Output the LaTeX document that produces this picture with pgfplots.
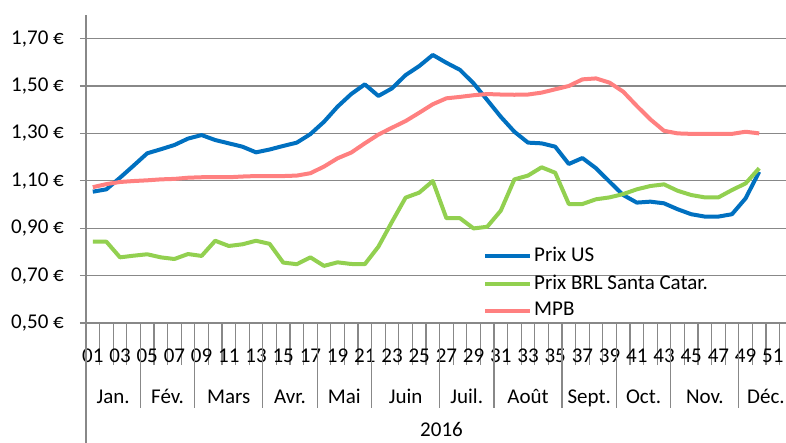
\documentclass[border=0pt]{standalone}
\usepackage{pgfplots}
\usepackage{pgfplotstable}
\pgfplotsset{compat=1.18}
\usetikzlibrary{calc}
\usepackage{fontspec}
\setmainfont{Carlito}
\definecolor{cUS}{HTML}{0070C0}
\definecolor{cBRL}{HTML}{92D050}
\definecolor{cMPB}{HTML}{FF8080}
\definecolor{gridc}{HTML}{888888}
\pgfplotstableread{
week us brl mpb
1 1.054 0.843 1.073
2 1.064 0.843 1.086
3 1.113 0.777 1.095
4 1.164 0.784 1.099
5 1.216 0.790 1.102
6 1.233 0.777 1.106
7 1.251 0.770 1.108
8 1.278 0.791 1.113
9 1.293 0.783 1.115
10 1.272 0.847 1.115
11 1.258 0.825 1.115
12 1.244 0.832 1.118
13 1.220 0.847 1.120
14 1.232 0.834 1.120
15 1.247 0.755 1.120
16 1.261 0.748 1.122
17 1.297 0.777 1.132
18 1.349 0.741 1.160
19 1.413 0.756 1.195
20 1.466 0.749 1.219
21 1.507 0.748 1.258
22 1.458 0.822 1.295
23 1.490 0.927 1.324
24 1.546 1.029 1.352
25 1.584 1.050 1.387
26 1.631 1.099 1.423
27 1.598 0.942 1.448
28 1.568 0.942 1.454
29 1.511 0.899 1.461
30 1.441 0.906 1.466
31 1.370 0.974 1.464
32 1.307 1.106 1.463
33 1.261 1.122 1.464
34 1.258 1.157 1.472
35 1.244 1.134 1.486
36 1.171 1.002 1.500
37 1.196 1.002 1.528
38 1.153 1.022 1.532
39 1.096 1.030 1.514
40 1.040 1.044 1.476
41 1.008 1.064 1.416
42 1.012 1.078 1.359
43 1.005 1.085 1.311
44 0.980 1.058 1.300
45 0.959 1.040 1.298
46 0.949 1.030 1.298
47 0.949 1.030 1.298
48 0.959 1.061 1.298
49 1.026 1.089 1.307
50 1.138 1.153 1.300
}\datatable
\begin{document}
\fontsize{21pt}{25pt}\selectfont
\begin{tikzpicture}
\begin{axis}[
  scale only axis, width=707.2pt, height=308.1pt,
  xmin=0.5, xmax=52.5, ymin=0.5, ymax=1.8,
  clip=false,
  axis x line*=bottom, axis y line*=left,
  axis line style={gridc, line width=1.3pt},
  tick align=outside,
  major tick length=6pt, minor tick length=42pt,
  tick style={gridc, line width=1.3pt},
  ytick={0.5,0.7,0.9,1.1,1.3,1.5,1.7},
  yticklabels={{0,50 €},{0,70 €},{0,90 €},{1,10 €},{1,30 €},{1,50 €},{1,70 €}},
  yticklabel style={anchor=east, inner sep=0pt, xshift=-16pt},
  ymajorgrids, major grid style={gridc, line width=1.3pt},
  xtick={1,3,...,51},
  xticklabels={01,03,05,07,09,11,13,15,17,19,21,23,25,27,29,31,33,35,37,39,41,43,45,47,49,51},
  major x tick style={draw=none},
  minor xtick={0.5,1.5,...,52.5},
  xticklabel style={anchor=center, inner sep=0pt, yshift=-27pt},
  ticklabel style={font=\fontsize{21pt}{25pt}\selectfont},
  legend style={at={(0.5614,0.253)}, anchor=north west, draw=none, fill=none,
    font=\fontsize{21pt}{25pt}\selectfont, inner sep=0pt, row sep=6pt,
    legend cell align=left},
  legend image code/.code={\draw[#1] (0pt,0pt) -- (45pt,0pt);},
  every axis plot/.append style={line width=4pt, line join=round},
]
\addplot[cUS] table[x=week, y=us] {\datatable};
\addlegendentry{Prix US}
\addplot[cBRL] table[x=week, y=brl] {\datatable};
\addlegendentry{Prix BRL Santa Catar.}
\addplot[cMPB] table[x=week, y=mpb] {\datatable};
\addlegendentry{MPB}
\pgfplotsinvokeforeach{4.5,8.5,13.5,17.5,21.5,26.5,30.5,35.5,39.5,43.5,48.5}{
  \draw[gridc, line width=1.3pt] (axis cs:#1,0.5) -- ++(0pt,-85pt);
}
\draw[gridc, line width=1.3pt] (axis cs:0.5,0.5) -- ++(0pt,-125pt);
\node[inner sep=0pt, anchor=base] at ($(axis cs:2.5,0.5)+(0pt,-80.5pt)$) {Jan.};
\node[inner sep=0pt, anchor=base] at ($(axis cs:6.5,0.5)+(0pt,-80.5pt)$) {Fév.};
\node[inner sep=0pt, anchor=base] at ($(axis cs:11,0.5)+(0pt,-80.5pt)$) {Mars};
\node[inner sep=0pt, anchor=base] at ($(axis cs:15.5,0.5)+(0pt,-80.5pt)$) {Avr.};
\node[inner sep=0pt, anchor=base] at ($(axis cs:19.5,0.5)+(0pt,-80.5pt)$) {Mai};
\node[inner sep=0pt, anchor=base] at ($(axis cs:24,0.5)+(0pt,-80.5pt)$) {Juin};
\node[inner sep=0pt, anchor=base] at ($(axis cs:28.5,0.5)+(0pt,-80.5pt)$) {Juil.};
\node[inner sep=0pt, anchor=base] at ($(axis cs:33,0.5)+(0pt,-80.5pt)$) {Août};
\node[inner sep=0pt, anchor=base] at ($(axis cs:37.5,0.5)+(0pt,-80.5pt)$) {Sept.};
\node[inner sep=0pt, anchor=base] at ($(axis cs:41.5,0.5)+(0pt,-80.5pt)$) {Oct.};
\node[inner sep=0pt, anchor=base] at ($(axis cs:46,0.5)+(0pt,-80.5pt)$) {Nov.};
\node[inner sep=0pt, anchor=base] at ($(axis cs:50.5,0.5)+(0pt,-80.5pt)$) {Déc.};
\node[inner sep=0pt] at ($(axis cs:26.64,0.5)+(0pt,-106pt)$) {2016};
\end{axis}
\pgfresetboundingbox
\useasboundingbox (-86pt,-120pt) rectangle (700pt,323pt);
\end{tikzpicture}
\end{document}
